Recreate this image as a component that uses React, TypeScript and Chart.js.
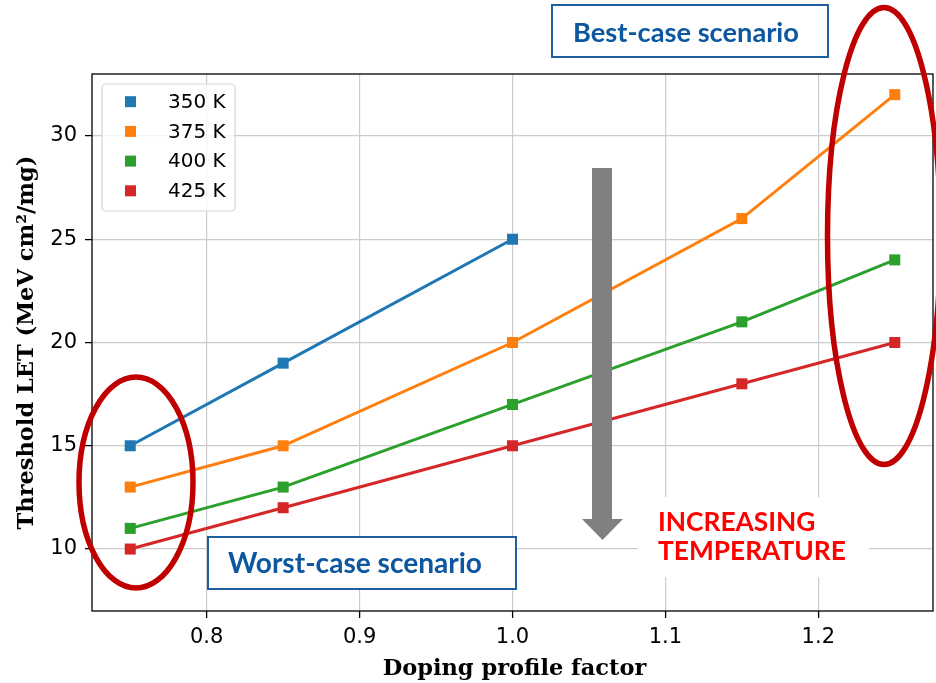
import React, { useEffect, useRef } from "react";
import { Chart, registerables } from "chart.js";

Chart.register(...registerables);

// ---- data ----
const seriesLabels = ["350 K", "375 K", "400 K", "425 K"];
const seriesColors = ["#1f77b4", "#ff7f0e", "#2ca02c", "#d62728"];
const dopingShort = [0.75, 0.85, 1.0];
const dopingFull = [0.75, 0.85, 1.0, 1.15, 1.25];
const let350 = [15, 19, 25];
const let375 = [13, 15, 20, 26, 32];
const let400 = [11, 13, 17, 21, 24];
const let425 = [10, 12, 15, 18, 20];
const xTicks = [0.8, 0.9, 1.0, 1.1, 1.2];
const yTicks = [10, 15, 20, 25, 30];
const xTitle = "Doping profile factor";
const yTitle = "Threshold LET (MeV cm\u00B2/mg)";
const bestText = "Best-case scenario";
const worstText = "Worst-case scenario";
const tempLines = ["INCREASING", "TEMPERATURE"];

const W = 936;
const H = 683;

function fitFont(ctx: CanvasRenderingContext2D, text: string, family: string, target: number, base: number) {
  ctx.font = `bold ${base}px ${family}`;
  const w = ctx.measureText(text).width;
  const size = (base * target) / w;
  return `bold ${size.toFixed(2)}px ${family}`;
}

const overlayPlugin = {
  id: "overlay",
  afterDraw(chart: any) {
    const ctx: CanvasRenderingContext2D = chart.ctx;
    const area = chart.chartArea;
    ctx.save();

    // frame
    ctx.strokeStyle = "#000";
    ctx.lineWidth = 1.3;
    ctx.strokeRect(area.left, area.top, area.right - area.left, area.bottom - area.top);

    // axis titles
    ctx.fillStyle = "#000";
    ctx.font = 'bold 22.5px "DejaVu Serif"';
    ctx.textAlign = "center";
    ctx.textBaseline = "alphabetic";
    ctx.fillText(xTitle, (area.left + area.right) / 2 + 2, 675);
    ctx.save();
    ctx.translate(33, (area.top + area.bottom) / 2);
    ctx.rotate(-Math.PI / 2);
    ctx.fillText(yTitle, 0, 0);
    ctx.restore();

    // legend
    const lx = 102, ly = 84, lw = 133, lh = 127;
    ctx.beginPath();
    ctx.roundRect(lx, ly, lw, lh, 4);
    ctx.fillStyle = "rgba(255,255,255,0.8)";
    ctx.fill();
    ctx.strokeStyle = "#d5d5d5";
    ctx.lineWidth = 1.2;
    ctx.stroke();
    ctx.font = '20px "DejaVu Sans"';
    ctx.textAlign = "left";
    ctx.textBaseline = "middle";
    chart.data.datasets.forEach((ds: any, i: number) => {
      const cy = 101.7 + i * 29.7;
      ctx.fillStyle = ds.borderColor;
      ctx.fillRect(125, cy - 5.5, 11, 11);
      ctx.fillStyle = "#000";
      ctx.fillText(ds.label, 168, cy + 1);
    });

    // gray arrow
    ctx.fillStyle = "#808080";
    ctx.beginPath();
    ctx.moveTo(592, 168);
    ctx.lineTo(612, 168);
    ctx.lineTo(612, 519);
    ctx.lineTo(623, 519);
    ctx.lineTo(602.5, 540);
    ctx.lineTo(582, 519);
    ctx.lineTo(592, 519);
    ctx.closePath();
    ctx.fill();

    // increasing temperature
    ctx.fillStyle = "#ffffff";
    ctx.fillRect(638, 497, 231, 80);
    ctx.fillStyle = "#ff0000";
    ctx.textAlign = "left";
    ctx.textBaseline = "alphabetic";
    ctx.font = fitFont(ctx, tempLines[1], "Lato", 188, 25);
    ctx.fillText(tempLines[0], 658, 531);
    ctx.fillText(tempLines[1], 658, 560);

    // boxes
    const drawBox = (x: number, y: number, w: number, h: number, text: string, tx: number, tw: number, base: number) => {
      ctx.fillStyle = "#ffffff";
      ctx.fillRect(x, y, w, h);
      ctx.strokeStyle = "#1f5f9f";
      ctx.lineWidth = 2;
      ctx.strokeRect(x, y, w, h);
      ctx.fillStyle = "#0d57a1";
      ctx.font = fitFont(ctx, text, "Lato", tw, 26);
      ctx.textAlign = "left";
      ctx.textBaseline = "alphabetic";
      ctx.fillText(text, tx, base);
    };
    drawBox(208, 537, 308, 52, worstText, 228, 254, 573);
    drawBox(552, 5, 276, 52, bestText, 573, 226, 41.5);

    // ellipses
    ctx.strokeStyle = "#c00000";
    ctx.lineWidth = 5.5;
    ctx.beginPath();
    ctx.ellipse(136, 482.5, 57, 105.5, 0, 0, Math.PI * 2);
    ctx.stroke();
    ctx.beginPath();
    ctx.ellipse(884, 236, 56.5, 228.5, 0, 0, Math.PI * 2);
    ctx.stroke();

    ctx.restore();
  },
};

export default function App() {
  const ref = useRef<HTMLCanvasElement | null>(null);
  useEffect(() => {
    document.body.style.margin = "0";
    const canvas = ref.current;
    if (!canvas) return;
    const allY = [let350, let375, let400, let425];
    const datasets = allY.map((vals, i) => {
      const xs = i === 0 ? dopingShort : dopingFull;
      return {
        label: seriesLabels[i],
        data: vals.map((v, j) => ({ x: xs[j], y: v })),
        borderColor: seriesColors[i],
        backgroundColor: seriesColors[i],
        borderWidth: 3,
        pointStyle: "rect",
        pointRadius: 7.8,
        pointHoverRadius: 7.8,
        pointBorderWidth: 0,
        tension: 0,
      };
    });
    const chart = new Chart(canvas, {
      type: "line",
      data: { datasets } as any,
      options: {
        responsive: false,
        animation: false,
        events: [],
        layout: { autoPadding: false, padding: { left: 0, top: 74, right: 3, bottom: 0 } },
        plugins: { legend: { display: false }, tooltip: { enabled: false } },
        scales: {
          x: {
            type: "linear",
            min: 0.725,
            max: 1.275,
            afterBuildTicks: (s: any) => {
              s.ticks = xTicks.map((v) => ({ value: v }));
            },
            afterFit: (s: any) => {
              s.height = 72;
              s.paddingLeft = 0;
              s.paddingRight = 0;
            },
            ticks: {
              color: "#000",
              font: { family: "DejaVu Sans", size: 21 },
              padding: 7,
              maxRotation: 0,
              callback: (v: any) => Number(v).toFixed(1),
            },
            grid: { color: "#cccccc", lineWidth: 1.2, tickColor: "#000", tickLength: 7, tickWidth: 1.3 },
            border: { display: false },
          },
          y: {
            type: "linear",
            min: 7,
            max: 33,
            afterBuildTicks: (s: any) => {
              s.ticks = yTicks.map((v) => ({ value: v }));
            },
            afterFit: (s: any) => {
              s.width = 92;
              s.paddingTop = 0;
              s.paddingBottom = 0;
            },
            ticks: {
              color: "#000",
              font: { family: "DejaVu Sans", size: 21 },
              padding: 8,
              callback: (v: any) => String(v),
            },
            grid: { color: "#cccccc", lineWidth: 1.2, tickColor: "#000", tickLength: 7, tickWidth: 1.3 },
            border: { display: false },
          },
        },
      } as any,
      plugins: [overlayPlugin],
    });
    return () => chart.destroy();
  }, []);
  return <canvas ref={ref} width={W} height={H} style={{ display: "block", width: W, height: H }} />;
}
